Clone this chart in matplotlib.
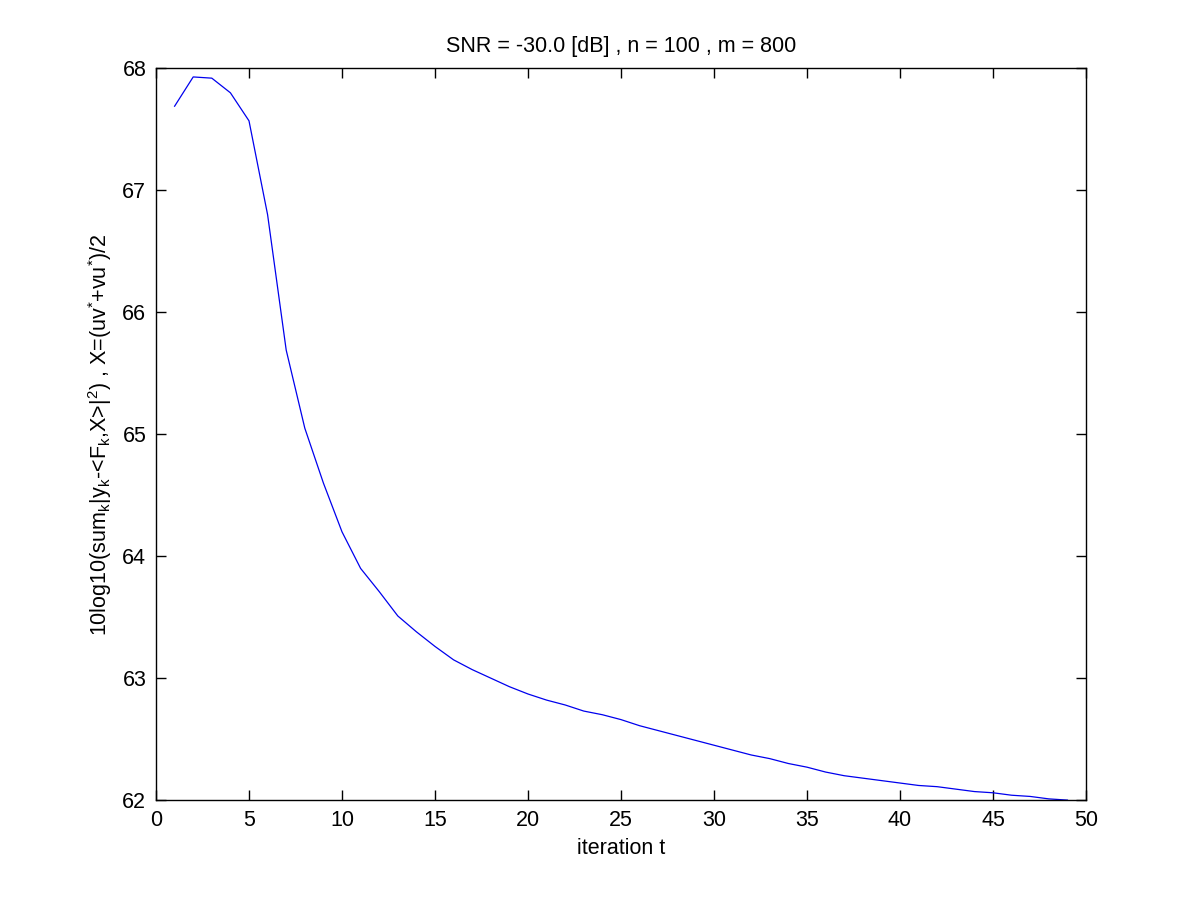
import numpy as np
import matplotlib
matplotlib.use('Agg')
import matplotlib.pyplot as plt

plt.rcParams['font.family'] = ['Liberation Sans', 'DejaVu Sans']
plt.rcParams['mathtext.default'] = 'regular'

# iteration index and error curve (dB)
iters = list(range(1, 50))
err_db = [67.69, 67.93, 67.92, 67.80, 67.57, 66.80, 65.69, 65.05, 64.60, 64.20,
          63.90, 63.71, 63.51, 63.38, 63.26, 63.15, 63.07, 63.00, 62.93, 62.87,
          62.82, 62.78, 62.73, 62.70, 62.66, 62.61, 62.57, 62.53, 62.49, 62.45,
          62.41, 62.37, 62.34, 62.30, 62.27, 62.23, 62.20, 62.18, 62.16, 62.14,
          62.12, 62.11, 62.09, 62.07, 62.06, 62.04, 62.03, 62.01, 62.00]

fs = 15.5

fig = plt.figure(figsize=(12, 9), dpi=100)
ax = fig.add_axes([0.13, 0.111, 0.775, 0.813])
ax.plot(iters, err_db, color='#0000ee', lw=0.9)

ax.set_xlim(0, 50)
ax.set_ylim(62, 68)
ax.set_xticks(np.arange(0, 51, 5))
ax.set_yticks(np.arange(62, 69, 1))
ax.tick_params(direction='in', top=True, right=True, length=7, width=1,
               labelsize=fs, pad=7)
for s in ax.spines.values():
    s.set_linewidth(1)

ax.set_title('SNR = -30.0 [dB] , n = 100 , m = 800', fontsize=fs, pad=12)
ax.set_xlabel('iteration t', fontsize=fs, labelpad=5)
ax.set_ylabel('10log10(sum$_k$|y$_k$-<F$_k$,X>|$^2$) , X=(uv$^{*}$+vu$^{*}$)/2',
              fontsize=fs, labelpad=6)

fig.savefig('out.png', dpi=100)
